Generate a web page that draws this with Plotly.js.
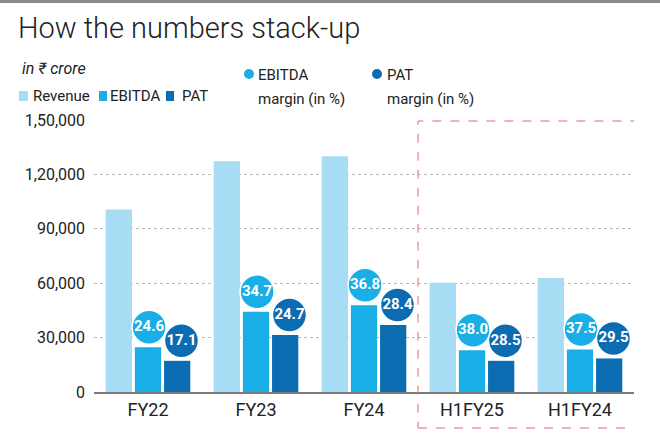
<!DOCTYPE html>
<html>
<head>
<meta charset="utf-8">
<script src="https://cdn.plot.ly/plotly-3.0.1.min.js"></script>
<style>html,body{margin:0;padding:0;background:#fff;}#chart{width:660px;height:440px;}</style>
</head>
<body>
<div id="chart"></div>
<script>
// ---- data ----
const categories = ["FY22", "FY23", "FY24", "H1FY25", "H1FY24"];
const revenue = [100600, 127300, 130000, 60300, 62900];
const ebitda = [24700, 44200, 47800, 23000, 23500];
const pat = [17200, 31400, 36900, 17200, 18500];
const ebitdaMargin = [24.6, 34.7, 36.8, 38.0, 37.5];
const patMargin = [17.1, 24.7, 28.4, 28.5, 29.5];
const yTickVals = [0, 30000, 60000, 90000, 120000, 150000];
const yTickText = ["0", "30,000", "60,000", "90,000", "1,20,000", "1,50,000"];

// ---- styling ----
const FONT = '"Roboto", "Liberation Sans", sans-serif';
const C_REV = "#a6dcf4", C_EB = "#1aaee6", C_PAT = "#0b6cb2";
const W = 660, H = 440, L = 94, R = 26, T = 120, B = 48;
const PW = W - L - R, PH = H - T - B;
const YMAX = 150000;
const bargap = 0.19;
const slot = (1 - bargap) / 3;
const circleLift = 20 * YMAX / PH; // circles sit ~20px above bar tops
const px2x = p => (p - L) / PW;
const py2y = p => (H - B - p) / PH;

const idx = categories.map((_, i) => i);

const traces = [
  {type: "bar", name: "Revenue", x: idx, y: revenue, marker: {color: C_REV}, hoverinfo: "y"},
  {type: "bar", name: "EBITDA", x: idx, y: ebitda, marker: {color: C_EB}, hoverinfo: "y"},
  {type: "bar", name: "PAT", x: idx, y: pat, marker: {color: C_PAT}, hoverinfo: "y"},
  {type: "scatter", mode: "markers+text", name: "EBITDA margin (in %)",
   x: idx.map(i => i + 0.01), y: ebitda.map(v => v + circleLift),
   text: ebitdaMargin.map(v => v.toFixed(1)), textposition: "middle center",
   textfont: {family: FONT, size: 15, color: "#ffffff", weight: "bold"},
   marker: {size: 34, color: C_EB, line: {color: "#ffffff", width: 1.5}}, cliponaxis: false},
  {type: "scatter", mode: "markers+text", name: "PAT margin (in %)",
   x: idx.map(i => i + slot + 0.04), y: pat.map(v => v + circleLift),
   text: patMargin.map(v => v.toFixed(1)), textposition: "middle center",
   textfont: {family: FONT, size: 15, color: "#ffffff", weight: "bold"},
   marker: {size: 34, color: C_PAT, line: {color: "#ffffff", width: 1.5}}, cliponaxis: false}
];

const ann = (text, x, y, opts) => Object.assign({
  text: text, xref: "paper", yref: "paper", x: px2x(x), y: py2y(y),
  xanchor: "left", yanchor: "middle", showarrow: false,
  font: {family: FONT, size: 15, color: "#222"}
}, opts || {});

const sq = (x0, y0, x1, y1, color) => ({type: "rect", xref: "paper", yref: "paper",
  x0: px2x(x0), x1: px2x(x1), y0: py2y(y1), y1: py2y(y0), fillcolor: color, line: {width: 0}});
const dot = (cx, cy, r, color) => ({type: "circle", xref: "paper", yref: "paper",
  x0: px2x(cx - r), x1: px2x(cx + r), y0: py2y(cy + r), y1: py2y(cy - r), fillcolor: color, line: {width: 0}});

const layout = {
  width: W, height: H,
  margin: {l: L, r: R, t: T, b: B, pad: 0},
  paper_bgcolor: "#ffffff", plot_bgcolor: "#ffffff",
  showlegend: false,
  barmode: "group", bargap: bargap, bargroupgap: 0.1,
  title: {text: "How the numbers stack-up", xref: "container", yref: "container",
    x: 18 / W, xanchor: "left", y: 1 - 28 / H, yanchor: "middle",
    font: {family: '"Roboto Light", "Lato Light", "Roboto", sans-serif', size: 29, color: "#222", weight: 300}},
  xaxis: {range: [-0.5, 4.5], tickvals: idx, ticktext: categories, showgrid: false,
    zeroline: false, showline: true, linecolor: "#7a7a7a", linewidth: 2,
    ticks: "", tickfont: {family: FONT, size: 18, color: "#222"}, fixedrange: true},
  yaxis: {range: [0, YMAX], tickvals: yTickVals, ticktext: yTickText,
    showgrid: true, gridcolor: "#b8b8b8", griddash: "dot", gridwidth: 1,
    zeroline: false, showline: false, ticks: "", ticklabelstandoff: 8,
    tickfont: {family: FONT, size: 16, color: "#222"}, fixedrange: true},
  shapes: [
    {type: "rect", xref: "paper", yref: "paper", x0: px2x(0), x1: px2x(W), y0: py2y(3), y1: py2y(0),
      fillcolor: "#8a8a8a", line: {width: 0}},
    {type: "rect", xref: "x", yref: "paper", x0: 2.5, x1: 4.52, y0: py2y(428), y1: py2y(121),
      fillcolor: "rgba(0,0,0,0)", line: {color: "#dc6680", width: 1, dash: "dash"}},
    sq(19, 91, 28, 101, C_REV),
    sq(99, 91, 107, 101, C_EB),
    sq(166, 91, 174, 101, C_PAT),
    dot(249, 74, 5, C_EB),
    dot(377, 74, 5, C_PAT)
  ],
  annotations: [
    ann("<i>in ₹ crore</i>", 20, 68, {font: {family: FONT, size: 16, color: "#222"}}),
    ann("Revenue", 31, 96),
    ann("EBITDA", 108, 96),
    ann("PAT", 180, 96),
    ann("EBITDA", 256, 75),
    ann("margin (in %)", 256, 99),
    ann("PAT", 385, 75),
    ann("margin (in %)", 385, 99)
  ]
};

Plotly.newPlot("chart", traces, layout, {displayModeBar: false, staticPlot: true});
</script>
</body>
</html>
